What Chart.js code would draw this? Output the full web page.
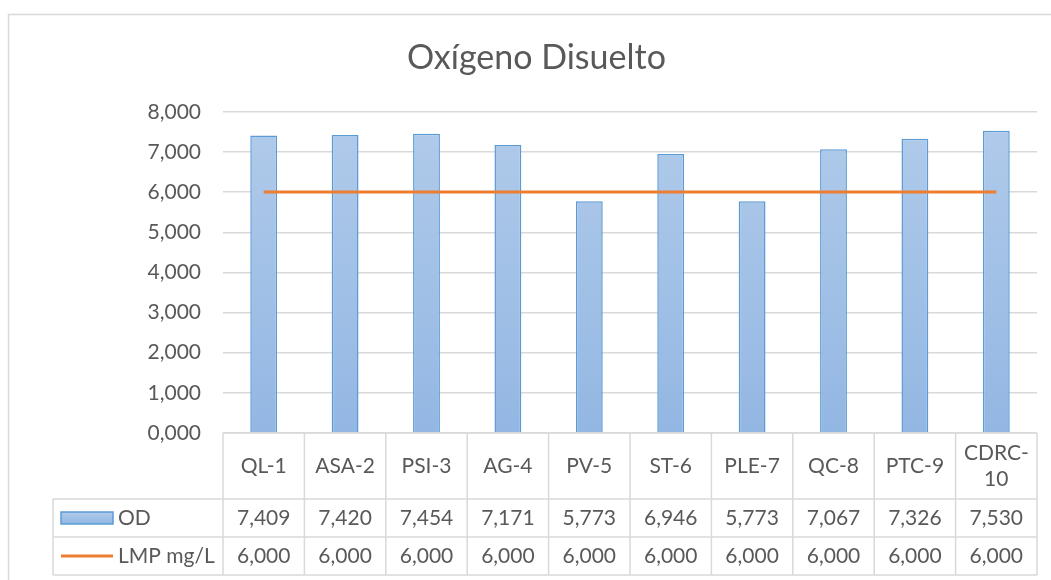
<!DOCTYPE html>
<html>
<head>
<meta charset="utf-8">
<script src="https://cdn.jsdelivr.net/npm/chart.js@4"></script>
<style>
  html, body { margin: 0; padding: 0; background: #fff; }
  #wrap { width: 1051px; height: 580px; position: relative; }
</style>
</head>
<body>
<div id="wrap"><canvas id="chart"></canvas></div>
<script>
const categories = ["QL-1", "ASA-2", "PSI-3", "AG-4", "PV-5", "ST-6", "PLE-7", "QC-8", "PTC-9", "CDRC-10"]
const odValues = [7.409, 7.420, 7.454, 7.171, 5.773, 6.946, 5.773, 7.067, 7.326, 7.530]
const lmpValues = [6, 6, 6, 6, 6, 6, 6, 6, 6, 6]
const yTicks = [0, 1, 2, 3, 4, 5, 6, 7, 8]
const seriesNames = ["OD", "LMP mg/L"]

const FONT = "Lato, 'Open Sans', sans-serif"
const TEXT = "#595959"
const GRID = "#d9d9d9"
const BAR_BORDER = "#5b9bd5"
const LINE_COLOR = "#ed7d31"

const fmt = (v) => v.toFixed(3).replace(".", ",")

const barGradient = (context) => {
  const { chart } = context
  const area = chart.chartArea
  if (!area) return "#a4c2e8"
  const g = chart.ctx.createLinearGradient(0, area.top, 0, area.bottom)
  g.addColorStop(0, "#b1cbea")
  g.addColorStop(1, "#93b7e3")
  return g
}

const frame = {
  id: "frame",
  beforeDraw(chart) {
    const ctx = chart.ctx
    ctx.save()
    ctx.fillStyle = "#fff"
    ctx.fillRect(0, 0, chart.width, chart.height)
    ctx.strokeStyle = GRID
    ctx.lineWidth = 1.5
    ctx.beginPath()
    ctx.moveTo(8.5, chart.height + 5)
    ctx.lineTo(8.5, 14.5)
    ctx.lineTo(chart.width + 5, 14.5)
    ctx.stroke()
    ctx.restore()
  }
}

const dataTable = {
  id: "dataTable",
  afterDraw(chart) {
    const ctx = chart.ctx
    const x = chart.scales.x
    const area = chart.chartArea
    const colW = (area.right - area.left) / categories.length
    const top = area.bottom
    const headBottom = top + 66
    const row1Bottom = headBottom + 38
    const row2Bottom = row1Bottom + 38
    const legendLeft = 53

    ctx.save()
    ctx.strokeStyle = GRID
    ctx.lineWidth = 1.5
    ctx.beginPath()
    ctx.moveTo(area.left, top); ctx.lineTo(area.right, top)
    ;[headBottom, row1Bottom, row2Bottom].forEach((y) => {
      ctx.moveTo(legendLeft, y); ctx.lineTo(area.right, y)
    })
    ctx.moveTo(legendLeft, headBottom); ctx.lineTo(legendLeft, row2Bottom)
    for (let i = 0; i <= categories.length; i++) {
      const cx = area.left + colW * i
      ctx.moveTo(cx, top); ctx.lineTo(cx, row2Bottom)
    }
    ctx.stroke()

    ctx.fillStyle = TEXT
    ctx.font = "21px " + FONT
    ctx.textAlign = "center"
    ctx.textBaseline = "middle"
    categories.forEach((label, i) => {
      const cx = x.getPixelForValue(i)
      const midY = (top + headBottom) / 2
      if (ctx.measureText(label).width > colW - 10 && label.includes("-")) {
        const cut = label.indexOf("-") + 1
        ctx.fillText(label.slice(0, cut), cx, midY - 13)
        ctx.fillText(label.slice(cut), cx, midY + 13)
      } else {
        ctx.fillText(label, cx, midY)
      }
      ctx.fillText(fmt(odValues[i]), cx, (headBottom + row1Bottom) / 2)
      ctx.fillText(fmt(lmpValues[i]), cx, (row1Bottom + row2Bottom) / 2)
    })

    // legend keys
    const y1 = (headBottom + row1Bottom) / 2
    const y2 = (row1Bottom + row2Bottom) / 2
    const g = ctx.createLinearGradient(0, y1 - 6, 0, y1 + 6)
    g.addColorStop(0, "#b1cbea")
    g.addColorStop(1, "#93b7e3")
    ctx.fillStyle = g
    ctx.fillRect(61, y1 - 6, 52, 12)
    ctx.strokeStyle = BAR_BORDER
    ctx.lineWidth = 1.5
    ctx.strokeRect(61, y1 - 6, 52, 12)
    ctx.strokeStyle = LINE_COLOR
    ctx.lineWidth = 3
    ctx.beginPath()
    ctx.moveTo(61, y2); ctx.lineTo(113, y2)
    ctx.stroke()

    ctx.fillStyle = TEXT
    ctx.textAlign = "left"
    ctx.fillText(seriesNames[0], 118, y1)
    ctx.fillText(seriesNames[1], 118, y2)
    ctx.restore()
  }
}

new Chart(document.getElementById("chart"), {
  data: {
    labels: categories,
    datasets: [
      {
        type: "line",
        label: seriesNames[1],
        data: lmpValues,
        borderColor: LINE_COLOR,
        borderWidth: 3,
        pointRadius: 0,
        tension: 0,
        order: 0
      },
      {
        type: "bar",
        label: seriesNames[0],
        data: odValues,
        backgroundColor: barGradient,
        borderColor: BAR_BORDER,
        borderWidth: 1.5,
        barPercentage: 0.33,
        categoryPercentage: 1,
        order: 1
      }
    ]
  },
  options: {
    responsive: true,
    maintainAspectRatio: false,
    animation: false,
    layout: { padding: { left: 36, right: 14, top: 0, bottom: 147 } },
    plugins: {
      legend: { display: false },
      tooltip: { enabled: false },
      title: {
        display: true,
        text: "Oxígeno Disuelto",
        color: TEXT,
        font: { family: FONT, size: 34, weight: "normal", lineHeight: 1.2 },
        padding: { top: 38, bottom: 33 }
      }
    },
    scales: {
      x: { display: false, offset: true },
      y: {
        min: 0,
        max: 8,
        afterBuildTicks: (scale) => {
          scale.ticks = yTicks.map((value) => ({ value }))
        },
        afterFit: (scale) => { scale.width = 187 },
        border: { display: false },
        grid: { color: GRID, lineWidth: 1.5, drawTicks: false },
        ticks: {
          color: TEXT,
          padding: 22,
          font: { family: FONT, size: 21 },
          callback: (value) => fmt(value)
        }
      }
    }
  },
  plugins: [frame, dataTable]
})
</script>
</body>
</html>
